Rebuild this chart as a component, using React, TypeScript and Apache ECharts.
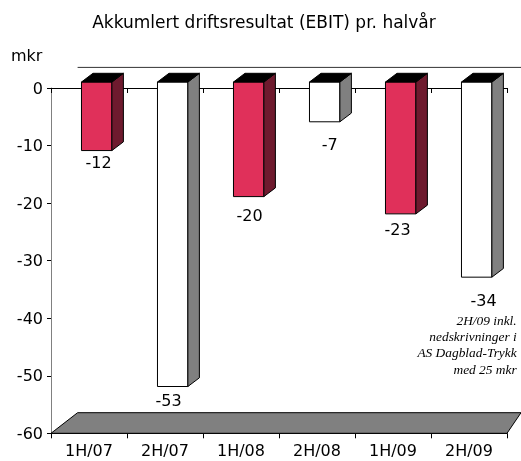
import React, { useEffect, useRef } from "react";
import * as echarts from "echarts";

const titleText = "Akkumlert driftsresultat (EBIT) pr. halvår";
const unitText = "mkr";
const categories = ["1H/07", "2H/07", "1H/08", "2H/08", "1H/09", "2H/09"];
const values = [-12, -53, -20, -7, -23, -34];
const barKinds = ["red", "white", "red", "white", "red", "white"];
const yMin = -60;
const yMax = 0;
const yInterval = 10;
const noteLines = ["2H/09 inkl.", "nedskrivninger i", "AS Dagblad-Trykk", "med 25 mkr"];

// label placement tweaks (px) relative to the bar's front face
const labelShift = [
  [2, 12],
  [-4, 14],
  [1, 18.5],
  [5, 23],
  [-3, 16],
  [7, 23],
];

const COLORS: Record<string, { front: string; side: string }> = {
  red: { front: "#E0305A", side: "#6E1A2E" },
  white: { front: "#FFFFFF", side: "#808080" },
};

const FONT = "DejaVu Sans";

export default function App() {
  const ref = useRef<HTMLDivElement>(null);

  useEffect(() => {
    if (!ref.current) return;
    const chart = echarts.init(ref.current, null, { renderer: "svg" });

    const barData = values.map((v, i) => [i, v]);

    const option: any = {
      animation: false,
      grid: { left: 51, top: 88, width: 456, height: 345.3 },
      xAxis: [
        {
          type: "category",
          data: categories,
          position: "bottom",
          axisLine: { show: true, onZero: false, lineStyle: { color: "#000", width: 1 } },
          axisTick: { show: true, length: 5, lineStyle: { color: "#000" } },
          axisLabel: { color: "#000", fontFamily: FONT, fontSize: 16, margin: 9 },
          splitLine: { show: false },
        },
        {
          type: "category",
          data: categories,
          position: "top",
          axisLine: { show: true, onZero: false, lineStyle: { color: "#000", width: 1 } },
          axisTick: { show: true, inside: true, length: 5, lineStyle: { color: "#000" } },
          axisLabel: { show: false },
          splitLine: { show: false },
        },
      ],
      yAxis: {
        type: "value",
        min: yMin,
        max: yMax,
        interval: yInterval,
        axisLine: { show: true, lineStyle: { color: "#808080", width: 1 } },
        axisTick: { show: true, length: 4, lineStyle: { color: "#000" } },
        axisLabel: { color: "#000", fontFamily: FONT, fontSize: 16, margin: 8 },
        splitLine: { show: false },
      },
      graphic: [
        {
          type: "text",
          x: 264,
          y: 22,
          style: {
            text: titleText,
            font: `17px "${FONT}"`,
            fill: "#000",
            align: "center",
            verticalAlign: "middle",
          },
        },
        {
          type: "text",
          x: 11,
          y: 55,
          style: {
            text: unitText,
            font: `16px "${FONT}"`,
            fill: "#000",
            align: "left",
            verticalAlign: "middle",
          },
        },
        {
          type: "text",
          x: 516.7,
          y: 312,
          z: 100,
          style: {
            text: noteLines.join("\n"),
            font: `italic 13.4px "Liberation Serif"`,
            lineHeight: 16.3,
            fill: "#000",
            align: "right",
            verticalAlign: "top",
          },
        },
      ],
      series: [
        {
          type: "custom",
          name: "floor",
          xAxisIndex: 0,
          yAxisIndex: 0,
          data: [[0, 0]],
          z: 1,
          silent: true,
          renderItem: (params: any, api: any) => {
            const cs = params.coordSys;
            const bottom = cs.y + cs.height;
            const depthL = 26.6;
            const depthR = 14;
            const depthY = 20.6;
            return {
              type: "group",
              children: [
                {
                  type: "polygon",
                  shape: {
                    points: [
                      [cs.x, bottom],
                      [cs.x + cs.width, bottom],
                      [cs.x + cs.width + depthR, bottom - depthY],
                      [cs.x + depthL, bottom - depthY],
                    ],
                  },
                  style: { fill: "#808080", stroke: "#000", lineWidth: 1 },
                },
                {
                  type: "line",
                  shape: {
                    x1: cs.x + depthL,
                    y1: cs.y - depthY,
                    x2: cs.x + cs.width + depthR,
                    y2: cs.y - depthY,
                  },
                  style: { stroke: "#333", lineWidth: 1 },
                },
              ],
            };
          },
        },
        {
          type: "custom",
          name: "EBIT",
          xAxisIndex: 0,
          yAxisIndex: 0,
          data: barData,
          z: 5,
          clip: false,
          renderItem: (params: any, api: any) => {
            const idx = api.value(0);
            const v = api.value(1);
            const p0 = api.coord([idx, 0]);
            const pv = api.coord([idx, v]);
            const band = api.size([1, 0])[0];
            const fcx = p0[0] + band * 0.101;
            const hw = band * 0.2;
            const x0 = fcx - hw;
            const x1 = fcx + hw;
            const yt = p0[1] - 6;
            const yb = pv[1] - 6.5;
            const dx = 11.5;
            const dy = -8.7;
            const c = COLORS[barKinds[idx]];
            const shift = labelShift[idx];
            return {
              type: "group",
              children: [
                {
                  type: "polygon",
                  shape: { points: [[x0, yt], [x1, yt], [x1, yb], [x0, yb]] },
                  style: { fill: c.front, stroke: "#000", lineWidth: 1 },
                },
                {
                  type: "polygon",
                  shape: { points: [[x1, yt], [x1 + dx, yt + dy], [x1 + dx, yb + dy], [x1, yb]] },
                  style: { fill: c.side, stroke: "#000", lineWidth: 1 },
                },
                {
                  type: "polygon",
                  shape: { points: [[x0, yt], [x1, yt], [x1 + dx, yt + dy], [x0 + dx, yt + dy]] },
                  style: { fill: "#000", stroke: "#000", lineWidth: 1 },
                },
                {
                  type: "text",
                  style: {
                    text: String(v),
                    x: fcx + shift[0],
                    y: yb + shift[1],
                    font: `16px "${FONT}"`,
                    fill: "#000",
                    align: "center",
                    verticalAlign: "middle",
                  },
                },
              ],
            };
          },
        },
      ],
    };

    chart.setOption(option);
    return () => chart.dispose();
  }, []);

  return (
    <div
      ref={ref}
      style={{ position: "fixed", left: 0, top: 0, width: 521, height: 461 }}
    />
  );
}
